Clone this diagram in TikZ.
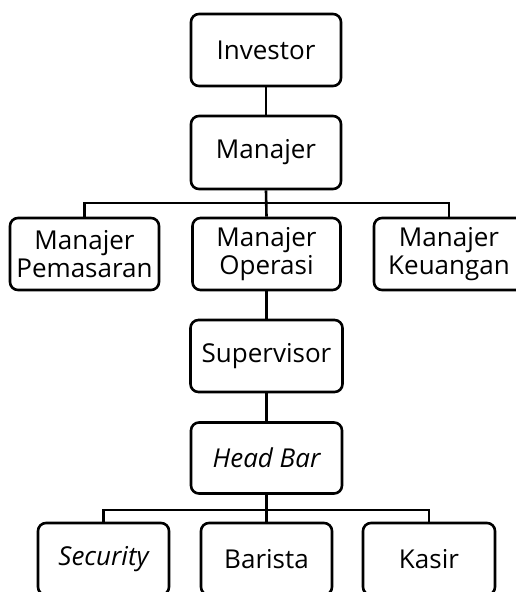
\documentclass[tikz,border=0pt]{standalone}
\usepackage{fontspec}
\setmainfont{Open Sans}
\begin{document}
\begin{tikzpicture}[x=1pt,y=-1pt,
  box/.style={draw=black, line width=2.6pt, rounded corners=8pt, fill=white,
    align=center, inner sep=0pt, minimum height=72pt,
    font=\fontsize{26}{28}\selectfont},
  link/.style={draw=black, line width=2.6pt}]
\useasboundingbox (0,0) rectangle (516,592);
\fill[white] (0,0) rectangle (516,592);

% top of the chart
\node[box, minimum width=150pt] (inv) at (266,50) {Investor};
\node[box, minimum width=150pt, minimum height=73pt] (man) at (266,152.5) {Manajer};

% managers
\node[box, minimum width=149pt] (pem) at (84.5,254) {Manajer\\Pemasaran};
\node[box, minimum width=148pt] (ope) at (266.5,254) {Manajer\\Operasi};
\node[box, minimum width=150pt] (keu) at (449,254) {Manajer\\Keuangan};

% operations line
\node[box, minimum width=152pt] (sup) at (266.5,356) {Supervisor};
\node[box, minimum width=151pt, minimum height=71pt] (hb) at (266.5,458) {\itshape Head Bar};

% staff
\node[box, minimum width=131pt] (sec) at (103.5,559) {\itshape Security};
\node[box, minimum width=131pt] (bar) at (266.5,559) {Barista};
\node[box, minimum width=132pt] (kas) at (429,559) {Kasir};

\coordinate (busA) at (266,203);
\coordinate (busB) at (266,510);

\draw[link] (inv.south) -- (man.north);
\draw[link] (man.south) -- (ope.north);
\draw[link] (pem.north) -- (pem.north |- busA) -- (keu.north |- busA) -- (keu.north);
\draw[link] (ope.south) -- (sup.north);
\draw[link] (sup.south) -- (hb.north);
\draw[link] (hb.south) -- (bar.north);
\draw[link] (sec.north) -- (sec.north |- busB) -- (kas.north |- busB) -- (kas.north);
\end{tikzpicture}
\end{document}
